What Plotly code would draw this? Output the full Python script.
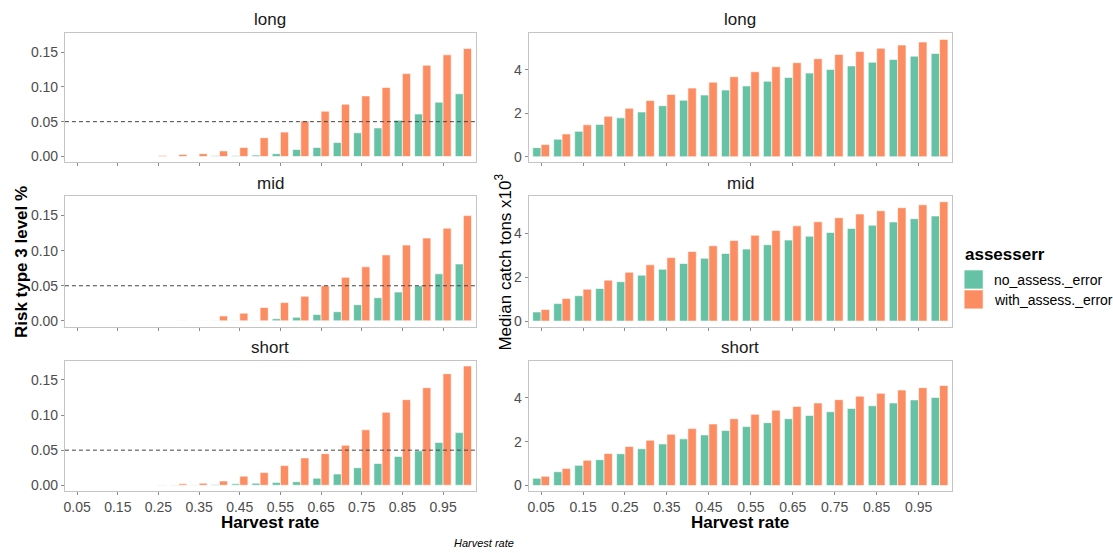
import plotly.graph_objects as go

harvest = [0.05, 0.10, 0.15, 0.20, 0.25, 0.30, 0.35, 0.40, 0.45, 0.50,
           0.55, 0.60, 0.65, 0.70, 0.75, 0.80, 0.85, 0.90, 0.95, 1.00]
tick_vals = [0.05, 0.15, 0.25, 0.35, 0.45, 0.55, 0.65, 0.75, 0.85, 0.95]
tick_text = ["0.05", "0.15", "0.25", "0.35", "0.45", "0.55", "0.65", "0.75", "0.85", "0.95"]

# Risk type 3 (left column)
risk_long_no = [0, 0, 0, 0, 0, 0, 0, 0.001, 0.001, 0.002, 0.004, 0.010, 0.013, 0.020,
                0.034, 0.041, 0.052, 0.061, 0.078, 0.090]
risk_long_with = [0, 0, 0, 0, 0.0015, 0.003, 0.004, 0.008, 0.013, 0.027, 0.035, 0.051,
                  0.065, 0.075, 0.087, 0.099, 0.119, 0.131, 0.146, 0.155]
risk_mid_no = [0, 0, 0, 0, 0, 0, 0, 0.0005, 0.0005, 0.0005, 0.003, 0.005, 0.009, 0.013,
               0.023, 0.033, 0.041, 0.050, 0.067, 0.081]
risk_mid_with = [0, 0, 0, 0, 0, 0.0005, 0.0005, 0.007, 0.011, 0.019, 0.026, 0.035, 0.050,
                 0.062, 0.077, 0.094, 0.108, 0.118, 0.132, 0.150]
risk_short_no = [0, 0, 0, 0, 0, 0.0005, 0.0005, 0.001, 0.002, 0.003, 0.004, 0.005, 0.010,
                 0.016, 0.025, 0.031, 0.041, 0.049, 0.061, 0.075]
risk_short_with = [0, 0, 0, 0, 0.0005, 0.002, 0.003, 0.006, 0.013, 0.018, 0.028, 0.039,
                   0.045, 0.057, 0.079, 0.104, 0.122, 0.139, 0.159, 0.170]

# Median catch (right column), tons x10^3
catch_long_no = [0.42, 0.81, 1.17, 1.49, 1.79, 2.06, 2.35, 2.60, 2.84, 3.07, 3.26, 3.47,
                 3.65, 3.85, 4.02, 4.18, 4.35, 4.48, 4.63, 4.75]
catch_long_with = [0.56, 1.05, 1.47, 1.86, 2.23, 2.59, 2.87, 3.16, 3.43, 3.68, 3.91, 4.14,
                   4.33, 4.51, 4.71, 4.84, 4.99, 5.14, 5.28, 5.40]
catch_mid_no = [0.42, 0.80, 1.16, 1.49, 1.80, 2.10, 2.37, 2.63, 2.87, 3.09, 3.29, 3.49,
                3.70, 3.88, 4.05, 4.23, 4.38, 4.53, 4.68, 4.80]
catch_mid_with = [0.53, 1.03, 1.46, 1.87, 2.23, 2.57, 2.90, 3.18, 3.44, 3.68, 3.92, 4.14,
                  4.35, 4.54, 4.72, 4.89, 5.04, 5.18, 5.31, 5.45]
catch_short_no = [0.33, 0.63, 0.92, 1.18, 1.45, 1.68, 1.90, 2.13, 2.31, 2.51, 2.69, 2.87,
                  3.05, 3.20, 3.37, 3.52, 3.64, 3.77, 3.91, 4.02]
catch_short_with = [0.42, 0.78, 1.15, 1.46, 1.78, 2.07, 2.34, 2.60, 2.81, 3.05, 3.25, 3.44,
                    3.61, 3.77, 3.92, 4.08, 4.21, 4.36, 4.47, 4.57]

facets = ["long", "mid", "short"]
series_names = ["no_assess._error", "with_assess._error"]
legend_title = "assesserr"
colors = ["#66C2A5", "#FC8D62"]

risk = {"long": (risk_long_no, risk_long_with),
        "mid": (risk_mid_no, risk_mid_with),
        "short": (risk_short_no, risk_short_with)}
catch = {"long": (catch_long_no, catch_long_with),
         "mid": (catch_mid_no, catch_mid_with),
         "short": (catch_short_no, catch_short_with)}

W, H = 1113, 553
def fx(px):
    return px / W
def fy(py):
    return 1 - py / H

col_x = [(64, 475), (528, 952)]
row_y = [(33, 163), (197, 328), (362, 493)]

fig = go.Figure()
layout = dict(width=W, height=H, margin=dict(l=0, r=0, t=0, b=0),
              plot_bgcolor="white", paper_bgcolor="white",
              barmode="group", bargap=0.2, bargroupgap=0, showlegend=False,
              font=dict(family="Liberation Sans, Arial, sans-serif", color="#4D4D4D"))
shapes = []
annotations = []

ax_idx = 0
for r, facet in enumerate(facets):
    for c in range(2):
        ax_idx += 1
        sfx = "" if ax_idx == 1 else str(ax_idx)
        data = risk[facet] if c == 0 else catch[facet]
        for s in range(2):
            fig.add_trace(go.Bar(
                x=harvest, y=data[s], name=series_names[s],
                marker=dict(color=colors[s], line=dict(color="white", width=0.6)),
                offsetgroup=str(s), legendgroup=series_names[s],
                showlegend=False,
                xaxis="x" + sfx, yaxis="y" + sfx))
        x0, x1 = col_x[c]
        y0, y1 = row_y[r]
        layout["xaxis" + sfx] = dict(
            domain=[fx(x0), fx(x1)], anchor="y" + sfx, range=[0.02, 1.03],
            tickvals=tick_vals, ticktext=tick_text, showticklabels=(r == 2),
            ticks="outside", ticklen=3, tickcolor="#8C8C8C",
            showline=True, mirror=True, linecolor="#C4C4C4", linewidth=1,
            showgrid=False, zeroline=False,
            tickfont=dict(size=14, color="#4D4D4D"))
        if c == 0:
            yax = dict(range=[-0.0085, 0.1775], tickvals=[0, 0.05, 0.10, 0.15],
                       ticktext=["0.00", "0.05", "0.10", "0.15"])
        else:
            yax = dict(range=[-0.26, 5.70], tickvals=[0, 2, 4], ticktext=["0", "2", "4"])
        yax.update(domain=[fy(y1), fy(y0)], anchor="x" + sfx,
                   ticks="outside", ticklen=3, tickcolor="#8C8C8C",
                   showline=True, mirror=True, linecolor="#C4C4C4", linewidth=1,
                   showgrid=False, zeroline=False,
                   tickfont=dict(size=14, color="#4D4D4D"))
        layout["yaxis" + sfx] = yax
        # facet strip title
        annotations.append(dict(text=facet, x=fx((x0 + x1) / 2), y=fy(y0 - 13),
                                xref="paper", yref="paper", showarrow=False,
                                xanchor="center", yanchor="middle",
                                font=dict(size=17, color="#1A1A1A")))
        if c == 0:
            shapes.append(dict(type="line", xref="x" + sfx + " domain", yref="y" + sfx,
                               x0=0, x1=1, y0=0.05, y1=0.05,
                               line=dict(color="#444444", width=1, dash="4px,3px")))

# legend (ggplot-style: title + square keys)
annotations.append(dict(text="<b>" + legend_title + "</b>", x=fx(963), y=fy(255),
                        xref="paper", yref="paper", showarrow=False,
                        xanchor="left", yanchor="middle",
                        font=dict(size=17, color="black")))
for s in range(2):
    top = 271 + 20 * s
    shapes.append(dict(type="rect", xref="paper", yref="paper",
                       x0=fx(964), x1=fx(983), y0=fy(top + 19), y1=fy(top),
                       fillcolor=colors[s], line=dict(color="white", width=0.6)))
    annotations.append(dict(text=series_names[s], x=fx(992), y=fy(top + 10),
                            xref="paper", yref="paper", showarrow=False,
                            xanchor="left", yanchor="middle",
                            font=dict(size=14, color="black")))

# axis titles
annotations.append(dict(text="<b>Risk type 3 level %</b>", x=fx(20), y=fy(263),
                        xref="paper", yref="paper", showarrow=False, textangle=-90,
                        xanchor="center", yanchor="middle",
                        font=dict(size=17, color="black")))
annotations.append(dict(text="Median catch tons x10<sup>3</sup>", x=fx(503), y=fy(263),
                        xref="paper", yref="paper", showarrow=False, textangle=-90,
                        xanchor="center", yanchor="middle",
                        font=dict(size=17, color="black")))
for c in range(2):
    x0, x1 = col_x[c]
    annotations.append(dict(text="<b>Harvest rate</b>", x=fx((x0 + x1) / 2), y=fy(524),
                            xref="paper", yref="paper", showarrow=False,
                            xanchor="center", yanchor="middle",
                            font=dict(size=17, color="black")))
annotations.append(dict(text="<i>Harvest rate</i>", x=fx(483), y=fy(545),
                        xref="paper", yref="paper", showarrow=False,
                        xanchor="center", yanchor="middle",
                        font=dict(size=11, color="black")))

layout["shapes"] = shapes
layout["annotations"] = annotations
fig.update_layout(**layout)
fig.write_html("out.html", config={"displayModeBar": False},
               post_script="document.body.style.margin='0px';document.body.style.padding='0px';")
